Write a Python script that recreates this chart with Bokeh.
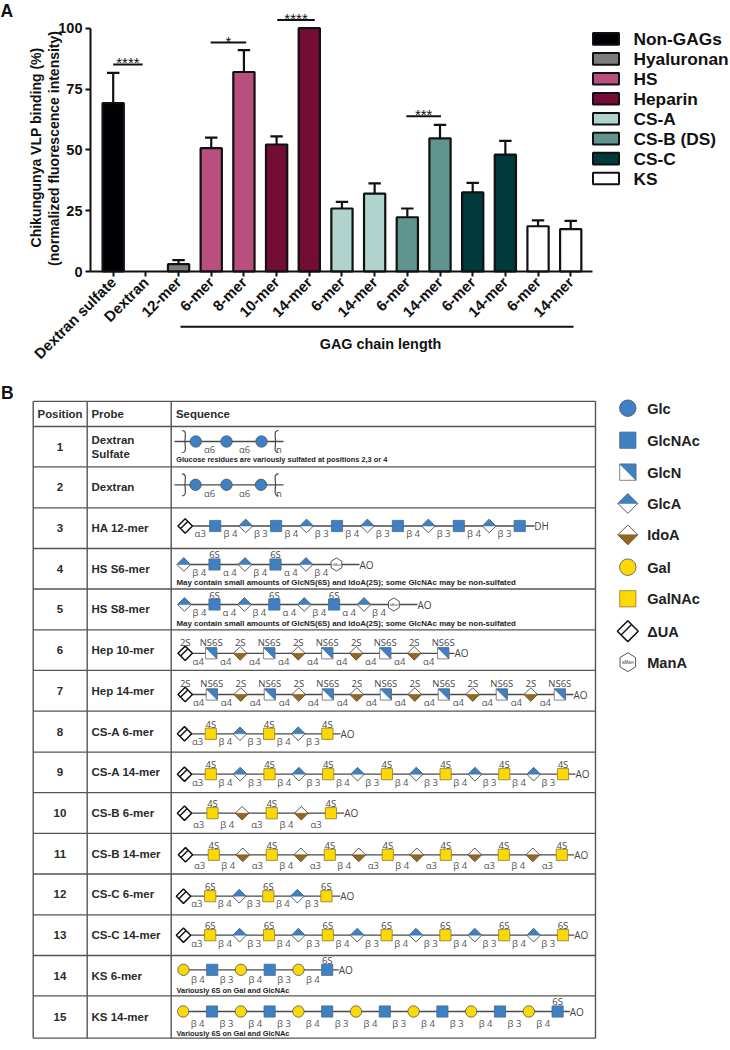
from math import pi, cos, sin
from bokeh.plotting import figure
from bokeh.models import Range1d, LinearAxis, FixedTicker
from bokeh.core.properties import value
from bokeh.embed import file_html
from bokeh.resources import INLINE

# ---------- Panel A data ----------
bar_labels = ["Dextran sulfate", "Dextran", "12-mer", "6-mer", "8-mer", "10-mer", "14-mer", "6-mer",
              "14-mer", "6-mer", "14-mer", "6-mer", "14-mer", "6-mer", "14-mer"]
bar_values = [69.2, 0, 3.0, 50.7, 82.0, 52.2, 100, 25.9, 32.0, 22.3, 54.7, 32.5, 48.0, 18.6, 17.4]
bar_err_top = [81.6, 0, 4.7, 55.0, 91.0, 55.5, 100, 28.6, 36.2, 25.9, 60.3, 36.4, 53.7, 21.0, 20.8]
bar_group = ["Non-GAGs", "Non-GAGs", "Hyaluronan", "HS", "HS", "Heparin", "Heparin", "CS-A", "CS-A",
             "CS-B (DS)", "CS-B (DS)", "CS-C", "CS-C", "KS", "KS"]
group_names = ["Non-GAGs", "Hyaluronan", "HS", "Heparin", "CS-A", "CS-B (DS)", "CS-C", "KS"]
group_colors = ["#000005", "#7c7c7c", "#b84f7e", "#740d36", "#b1d3ce", "#5f948f", "#003a3d", "#ffffff"]
y_ticks = [0, 25, 50, 75, 100]
sig_from = [0.0, 2.98, 5.02, 8.97]
sig_to = [0.9, 4.07, 6.17, 10.03]
sig_y = [85.1, 94.1, 103.4, 63.8]
sig_text = ["****", "*", "****", "***"]

# ---------- Panel B data ----------
table_positions = [str(i) for i in range(1, 16)]
table_probes = ["Dextran\nSulfate", "Dextran", "HA 12-mer", "HS S6-mer", "HS S8-mer", "Hep 10-mer", "Hep 14-mer",
                "CS-A 6-mer", "CS-A 14-mer", "CS-B 6-mer", "CS-B 14-mer", "CS-C 6-mer", "CS-C 14-mer",
                "KS 6-mer", "KS 14-mer"]
U, NAC, N, GA, IA, G, GN, M = "ΔUA", "GlcNAc", "GlcN", "GlcA", "IdoA", "Gal", "GalNAc", "ManA"
seq_3 = [U] + [NAC, GA] * 5 + [NAC]
link_3 = ["α3"] + ["β 4", "β 3"] * 5
seq_4 = [GA, NAC, GA, NAC, GA, M]
link_4 = ["β 4", "α 4", "β 4", "α 4", "β 4"]
seq_5 = [GA, NAC, GA, NAC, GA, NAC, GA, M]
link_5 = ["β 4", "α 4", "β 4", "α 4", "β 4", "α 4", "β 4"]
seq_6 = [U] + [N, IA] * 4 + [N]
seq_7 = [U] + [N, IA] * 6 + [N]
seq_8 = [U, GN, GA, GN, GA, GN]
seq_9 = [U] + [GN, GA] * 6 + [GN]
seq_10 = [U, GN, IA, GN, IA, GN]
seq_11 = [U] + [GN, IA] * 6 + [GN]
link_8 = ["α3"] + ["β 4", "β 3"] * 2
link_9 = ["α3"] + ["β 4", "β 3"] * 6
link_10 = ["α3", "β 4"] * 2 + ["α3"]
link_11 = ["α3", "β 4"] * 6 + ["α3"]
seq_14 = [G, NAC] * 3
seq_15 = [G, NAC] * 7
link_14 = ["β 4", "β 3", "β 4", "β 3", "β 4"]
link_15 = ["β 4", "β 3"] * 6 + ["β 4"]
note_1 = "Glucose residues are variously sulfated at positions 2,3 or 4"
note_4 = "May contain small amounts of GlcNS(6S) and IdoA(2S); some GlcNAc may be non-sulfated"
note_14 = "Variously 6S on Gal and GlcNAc"
key_names = [ "Glc", NAC, N, GA, IA, G, GN, U, M]

# ---------- Layout (page pixels) ----------
W, H = 730, 1050
PX_X0, PX_DX = 112.7, 32.68     # pixel of category 0, pixels per category
PX_Y0, PX_DY = 271.0, 2.433     # pixel of value 0, pixels per value unit
AX_L, AX_R = 90.0, 592.0

p = figure(width=W, height=H, x_range=Range1d(0, W), y_range=Range1d(H, 0),
           x_axis_type=None, y_axis_type=None, toolbar_location=None,
           output_backend="svg", min_border=0, outline_line_color=None)
p.extra_x_ranges["cx"] = Range1d((0 - PX_X0) / PX_DX, (W - PX_X0) / PX_DX)
p.extra_y_ranges["cy"] = Range1d((PX_Y0 - H) / PX_DY, PX_Y0 / PX_DY)

ARIAL = "Liberation Sans"
OPEN = "Open Sans"
late_text = []


def T(x, y, t, size, bold=False, color="#111111", align="left", base="middle", angle=0.0, font=ARIAL):
    p.text(x=[x], y=[y], text=[t], text_font=value(font), text_font_size=f"{size}px",
           text_font_style="bold" if bold else "normal", text_color=color,
           text_align=align, text_baseline=base, angle=angle)


# ---------- Panel A ----------
color_of = dict(zip(group_names, group_colors))
xs = list(range(len(bar_values)))
vis = [i for i in xs if bar_values[i] > 0]
capped = [i for i in vis if bar_err_top[i] > bar_values[i]]
p.segment(capped, [bar_values[i] for i in capped], capped, [bar_err_top[i] for i in capped],
          line_color="#111111", line_width=2.2, x_range_name="cx", y_range_name="cy")
p.segment([i - 0.19 for i in capped], [bar_err_top[i] for i in capped],
          [i + 0.19 for i in capped], [bar_err_top[i] for i in capped],
          line_color="#111111", line_width=2.2, x_range_name="cx", y_range_name="cy")
p.vbar(x=vis, top=[bar_values[i] for i in vis], bottom=0, width=0.65,
       fill_color=[color_of[bar_group[i]] for i in vis], line_color="#111111", line_width=2.2,
       x_range_name="cx", y_range_name="cy")

yax = LinearAxis(x_range_name="cx", y_range_name="cy", fixed_location=(AX_L - PX_X0) / PX_DX,
                 ticker=FixedTicker(ticks=y_ticks), bounds=(0, 100))
xax = LinearAxis(x_range_name="cx", y_range_name="cy", fixed_location=0,
                 ticker=FixedTicker(ticks=xs), bounds=((AX_L - PX_X0) / PX_DX, (AX_R - PX_X0) / PX_DX),
                 major_label_overrides=dict(zip(xs, bar_labels)), major_label_orientation=pi / 4)
for ax, sz in ((yax, "14.5px"), (xax, "15px")):
    ax.axis_line_width = 2
    ax.axis_line_color = "#111111"
    ax.major_tick_line_width = 2
    ax.major_tick_line_color = "#111111"
    ax.major_tick_in = 0
    ax.major_tick_out = 5
    ax.minor_tick_out = 0
    ax.minor_tick_in = 0
    ax.major_label_text_font = ARIAL
    ax.major_label_text_font_style = "bold"
    ax.major_label_text_font_size = sz
    ax.major_label_text_color = "#111111"
    ax.major_label_standoff = 3
p.add_layout(yax, "left")
p.add_layout(xax, "below")

p.segment(sig_from, sig_y, sig_to, sig_y, line_color="#111111", line_width=2, x_range_name="cx", y_range_name="cy")
p.text(x=[(a + b) / 2 for a, b in zip(sig_from, sig_to)], y=[v + 0.6 for v in sig_y], text=sig_text,
       text_font=value(ARIAL), text_font_size="15px", text_color="#111111", text_align="center",
       text_baseline="alphabetic", x_range_name="cx", y_range_name="cy")

T(35, 147, "Chikungunya VLP binding (%)", 14, True, align="center", angle=pi / 2)
T(53.3, 148, "(normalized fluorescence intensity)", 14, True, align="center", angle=pi / 2)
p.line([180, 573], [326.3, 326.3], line_color="#111111", line_width=2)
T(380, 343, "GAG chain length", 14.4, True, align="center")
T(0, 10.5, "A", 17.5, True)
T(0.5, 392, "B", 17.5, True)

leg_y0, leg_dy = 38.4, 19.95
for i, (nm, col) in enumerate(zip(group_names, group_colors)):
    yy = leg_y0 + i * leg_dy
    p.quad(left=[592.5], right=[618.5], top=[yy - 5.8], bottom=[yy + 5.8], fill_color=col,
           line_color="#111111", line_width=2)
    T(633, yy + 0.3, nm, 17.3, True)

# ---------- Panel B table ----------
row_lines = [400.8, 426.0, 466.4, 507.3, 548.0, 588.5, 629.3, 669.8, 710.7, 751.7, 792.2, 832.8, 873.5,
             914.3, 955.0, 995.4, 1037.7]
TL, C1, C2, TR = 32.7, 86.7, 170.7, 595.0
GRID = "#555555"
p.segment([TL] * 17, row_lines, [TR] * 17, row_lines, line_color=GRID, line_width=1.3)
p.segment([TL, C1, C2, TR], [row_lines[0]] * 4, [TL, C1, C2, TR], [row_lines[-1]] * 4,
          line_color=GRID, line_width=1.4)
HEAD = "#2b2b2b"
T(59.5, 413.5, "Position", 11.4, True, HEAD, "center")
T(91, 413.5, "Probe", 11.4, True, HEAD)
T(175.5, 413.5, "Sequence", 11.4, True, HEAD)
for i, (pos, probe) in enumerate(zip(table_positions, table_probes)):
    cy_ = (row_lines[i + 1] + row_lines[i + 2]) / 2
    T(59.5, cy_, pos, 11.5, True, HEAD, "center")
    if "\n" in probe:
        a, b = probe.split("\n")
        T(91, cy_ - 6.5, a, 11.5, True, HEAD)
        T(91, cy_ + 6.8, b, 11.5, True, HEAD)
    else:
        T(91, cy_, probe, 11.5, True, HEAD)

BLUE, GOLD, BROWN = "#3f80c4", "#fdd900", "#94681f"
polys = {"xs": [], "ys": [], "fill": [], "edge": [], "w": []}


def poly(px, py, fill, edge=None, w=0.0):
    polys["xs"].append(px)
    polys["ys"].append(py)
    polys["fill"].append(fill)
    polys["edge"].append(edge if edge else fill)
    polys["w"].append(w)


circles = {"x": [], "y": [], "r": [], "fill": []}
extra_lines = []


def residue(name, x, y, k=1.0):
    s, d = 5.6 * k, 6.8 * k
    if name == "Glc" or name == G:
        circles["x"].append(x); circles["y"].append(y); circles["r"].append(5.7 * k)
        circles["fill"].append(BLUE if name == "Glc" else GOLD)
    elif name in (NAC, GN):
        poly([x - s, x + s, x + s, x - s], [y - s, y - s, y + s, y + s], BLUE if name == NAC else GOLD,
             "#4a6a8a" if name == NAC else "#8a7a3a", 0.8)
    elif name == N:
        poly([x - s, x + s, x + s, x - s], [y - s, y - s, y + s, y + s], "#ffffff", "#666666", 0.8)
        poly([x - s, x + s, x + s], [y - s, y - s, y + s], BLUE, "#4a6a8a", 0.6)
    elif name in (GA, IA):
        poly([x - d, x, x + d, x], [y, y - d, y, y + d], "#ffffff", "#444444", 0.9)
        if name == GA:
            poly([x - d, x, x + d], [y, y - d, y], BLUE, "#4a6a8a", 0.5)
        else:
            poly([x - d, x, x + d], [y, y + d, y], BROWN, "#6a4a18", 0.5)
    elif name == U:
        h = 7.2 * k
        poly([x - h, x, x + h, x], [y, y - h, y, y + h], "#ffffff", "#111111", 1.5)
        o = 2.6 * k
        extra_lines.append(([x - h + o, x + o], [y + o, y - h + o]))
    elif name == M:
        r = 6.5 * k
        px = [x + r * cos(pi / 6 + j * pi / 3) * 0.95 for j in range(6)]
        py = [y + r * sin(pi / 6 + j * pi / 3) for j in range(6)]
        poly(px, py, "#ffffff", "#444444", 0.9)
        late_text.append((x, y, "aMan", 3.2 * k, True, "#777777", "center"))


# Rows: sequence, links, modification labels and layout (first x, second x, step, line y, mod y, link y, end label x)
rows = [
    (seq_3, link_3, {}, 184.7, 214.7, 30.45, 525.5, None, 533.3, 541, "DH"),
    (seq_4, link_4, {NAC: "6S"}, 183.3, 214.0, 30.5, 564.0, 554.0, 572.0, 366, "AO"),
    (seq_5, link_5, {NAC: "6S"}, 184.0, 214.0, 29.9, 604.0, 594.7, 611.5, 424, "AO"),
    (seq_6, ["α4"] * 9, {U: "2S", IA: "2S", N: "NS6S"}, 184.7, 210.7, 29.0, 652.8, 641.7, 660.7, 461, "AO"),
    (seq_7, ["α4"] * 13, {U: "2S", IA: "2S", N: "NS6S"}, 184.7, 211.3, 29.0, 694.0, 682.7, 701.7, 580, "AO"),
    (seq_8, link_8, {GN: "4S"}, 184.0, 210.3, 29.15, 733.3, 724.0, 741.3, 347, "AO"),
    (seq_9, link_9, {GN: "4S"}, 184.0, 210.3, 29.35, 773.7, 764.0, 781.7, 582, "AO"),
    (seq_10, link_10, {GN: "4S"}, 184.0, 212.0, 29.6, 812.7, 803.3, 823.7, 350.7, "AO"),
    (seq_11, link_11, {GN: "4S"}, 185.0, 213.3, 29.0, 854.3, 844.7, 865.3, 580.7, "AO"),
    (seq_8, link_8, {GN: "6S"}, 183.0, 209.7, 29.05, 895.7, 886.0, 903.3, 346.7, "AO"),
    (seq_9, link_9, {GN: "6S"}, 183.0, 209.7, 29.4, 934.7, 924.7, 942.7, 580.7, "AO"),
    (seq_14, link_14, {"last": "6S"}, 183.0, 211.7, 28.75, 969.3, 959.7, 979.3, 345.3, "AO"),
    (seq_15, link_15, {"last": "6S"}, 182.7, 211.5, 28.8, 1011.0, 1001.0, 1023.3, 576.3, "AO"),
]
LINE = "#4a4a4a"
LK = "#555555"
for seq, links, mods, x0, x1, dx, yl, ym, yk, xe, end in rows:
    cx_ = [x0] + [x1 + j * dx for j in range(len(seq) - 1)]
    p.line([x0, xe - 7], [yl, yl], line_color=LINE, line_width=1.3)
    for j, nm in enumerate(seq):
        residue(nm, cx_[j], yl)
        if nm in mods:
            T(cx_[j], ym, mods[nm], 9.5, False, "#444444", "center", font=OPEN)
    if "last" in mods:
        T(cx_[-1], ym, mods["last"], 9.5, False, "#444444", "center", font=OPEN)
    for j, lk in enumerate(links):
        T((cx_[j] + cx_[j + 1]) / 2, yk, lk, 9.5, False, LK, "center", font=OPEN)
    T(xe, yl, end, 10, False, "#444444", "center", font=OPEN)

# Dextran rows
for yl, yk, x_c in ((441.0, 448.5, (195.3, 226.0, 261.0)), (484.3, 492.5, (195.0, 226.0, 260.5))):
    p.line([174, 283], [yl, yl], line_color=LINE, line_width=1.3)
    for v in x_c:
        residue("Glc", v, yl)
    T(209, yk, "α6", 9.5, False, LK, "center", font=OPEN)
    T(244, yk, "α6", 9.5, False, LK, "center", font=OPEN)
    T(278.5, yk, "n", 9.5, False, LK, "center", font=OPEN)
    # hand-drawn style curly brackets
    for bx, sgn in ((184.5, -1), (275.0, 1)):
        p.bezier(x0=[bx + sgn * 3], y0=[yl - 11], x1=[bx], y1=[yl], cx0=[bx - sgn * 2], cy0=[yl - 11], cx1=[bx], cy1=[yl - 6],
                 line_color=LINE, line_width=1.2)
        p.bezier(x0=[bx], y0=[yl], x1=[bx + sgn * 3], y1=[yl + 11], cx0=[bx], cy0=[yl + 6], cx1=[bx - sgn * 2], cy1=[yl + 11],
                 line_color=LINE, line_width=1.2)

NOTE = "#1e1e1e"
T(175.7, 459.2, note_1, 7.4, True, NOTE)
T(176, 582.4, note_4, 7.9, True, NOTE)
T(176, 622.7, note_4, 7.9, True, NOTE)
T(176, 990, note_14, 7.4, True, NOTE)
T(176, 1032.7, note_14, 7.4, True, NOTE)

# Key
key_y = [407.7, 439.7, 471.7, 503.0, 534.3, 566.7, 598.3, 630.7, 661.7]
for nm, yy in zip(key_names, key_y):
    residue(nm, 627.3, yy, 1.45)
    T(646.7, yy + 0.4, nm, 14.6, True, "#222222")

p.patches(polys["xs"], polys["ys"], fill_color=polys["fill"], line_color=polys["edge"], line_width=polys["w"])
p.circle(circles["x"], circles["y"], radius=circles["r"], fill_color=circles["fill"], line_color="#44546a", line_width=0.8)
p.multi_line([a for a, _ in extra_lines], [b for _, b in extra_lines], line_color="#111111", line_width=1.4)
for args in late_text:
    T(*args)

open("out.html", "w").write(file_html(p, INLINE))
